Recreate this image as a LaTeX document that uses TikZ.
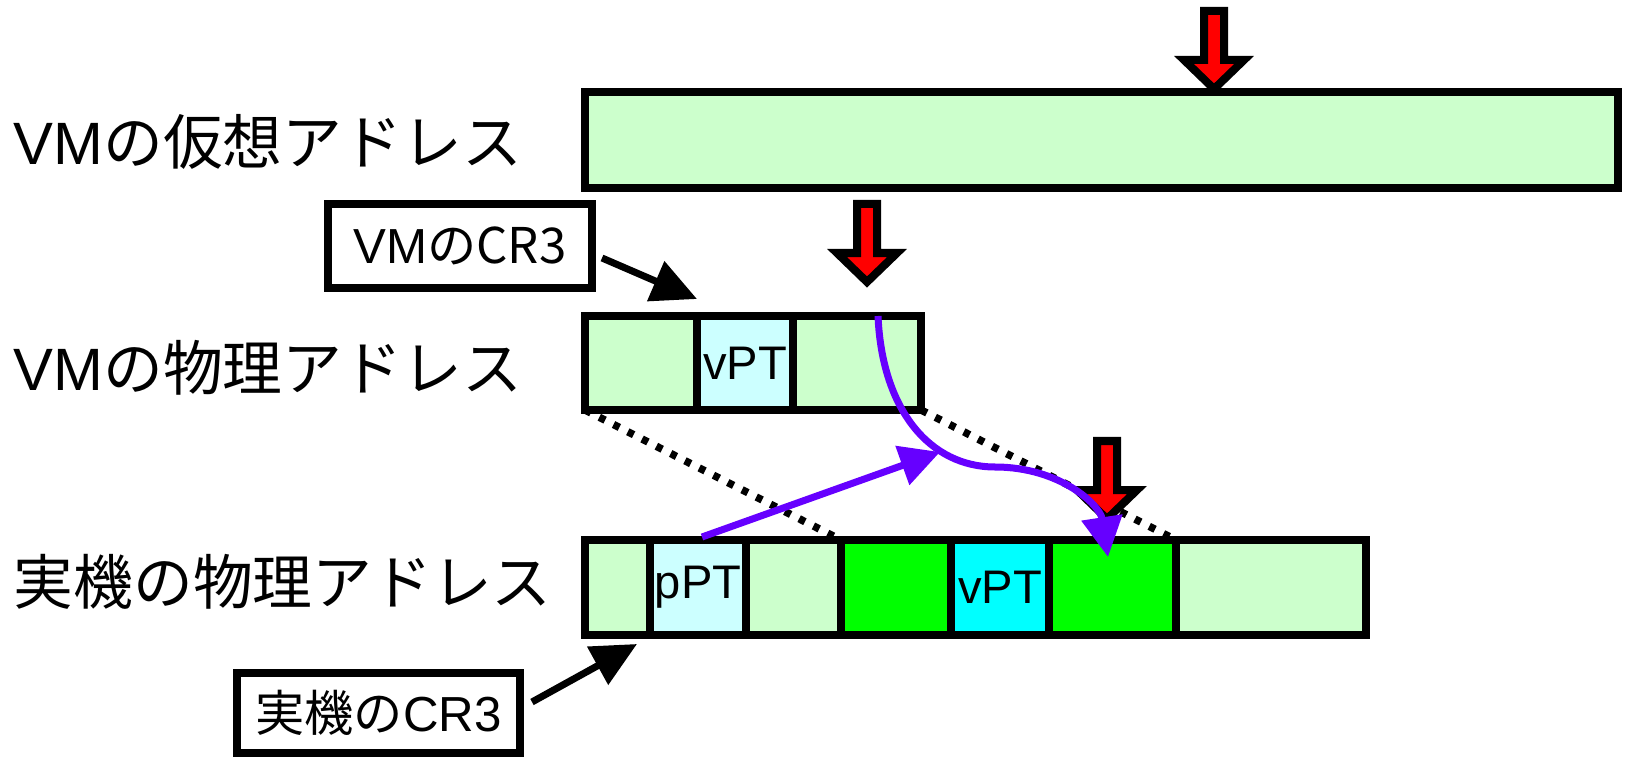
\documentclass[tikz,border=0pt]{standalone}
\usepackage{fontspec}
\setmainfont{Liberation Sans}
\newfontfamily\jp{Noto Sans CJK JP}
\usetikzlibrary{arrows.meta}

\definecolor{lgreen}{HTML}{CCFFCC}
\definecolor{lcyan}{HTML}{CCFFFF}
\definecolor{fgreen}{HTML}{00FF00}
\definecolor{fcyan}{HTML}{00FFFF}
\definecolor{walkcol}{HTML}{6600FF}

\tikzset{
  redarrow/.pic={
    \filldraw[fill=red, line width=0.08cm, miter limit=20]
      (-10,0) -- (10,0) -- (10,49) -- (30,49) -- (0,78)
      -- (-30,49) -- (-10,49) -- cycle;
  }
}

\begin{document}
\begin{tikzpicture}[x=0.01cm, y=-0.01cm,
    bar/.style={draw, line width=0.08cm, fill=lgreen},
    biglabel/.style={anchor=base west, inner sep=0pt, font=\fontsize{17}{20}\selectfont},
    regbox/.style={draw, line width=0.08cm, fill=white, inner sep=0pt, font=\fontsize{14}{16}\selectfont},
    celltext/.style={inner sep=0pt, font=\fontsize{13.4}{15}\selectfont},
    ptr/.style={line width=0.07cm, -{Triangle[length=0.45cm, width=0.42cm]}},
    mapline/.style={line width=0.075cm, dash pattern=on 0.065cm off 0.095cm},
    walk/.style={walkcol, line width=0.07cm, -{Triangle[length=0.4cm, width=0.4cm]}}]
  \useasboundingbox (0,0) rectangle (1625,764);

  % address space labels
  \node[biglabel] (vaddr) at (13,165) {VM\jp の仮想アドレス};
  \node[biglabel] (vphys) at (13,390) {VM\jp の物理アドレス};
  \node[biglabel] (hphys) at (13,604) {\jp 実機の物理アドレス};

  % guest physical range inside host memory
  \coordinate (vmL) at (585,410);
  \coordinate (vmR) at (921,410);
  \coordinate (paL) at (841,540);
  \coordinate (paR) at (1176,540);
  \draw[mapline] (vmL) -- (paL);
  \draw[mapline] (vmR) -- (paR);

  % VM virtual address
  \draw[bar] (585,92) rectangle (1618,188);

  % VM physical address
  \draw[bar] (585,316) rectangle (697,410);
  \draw[bar, fill=lcyan] (697,316) rectangle (793,410);
  \draw[bar] (793,316) rectangle (921,410);
  \node[celltext] (vpt) at (745,363) {vPT};

  % host physical address
  \draw[bar] (585,540) rectangle (650,635);
  \draw[bar, fill=lcyan] (650,540) rectangle (746,635);
  \draw[bar] (746,540) rectangle (841,635);
  \draw[bar, fill=fgreen] (841,540) rectangle (951,635);
  \draw[bar, fill=fcyan] (951,540) rectangle (1049,635);
  \draw[bar, fill=fgreen] (1049,540) rectangle (1176,635);
  \draw[bar] (1176,540) rectangle (1366,635);
  \node[celltext] (ppt) at (698,587) {pPT};
  \node[celltext] (hvpt) at (1000,587) {vPT};

  % CR3 registers
  \node[regbox, minimum width=2.64cm, minimum height=0.84cm] (vmcr3) at (460,246) {VM\jp のCR3};
  \node[regbox, minimum width=2.83cm, minimum height=0.80cm] (hostcr3) at (378.5,713) {{\jp 実機の}CR3};
  \coordinate (vmcr3from) at (602,258);
  \coordinate (vmcr3to) at (697,299);
  \coordinate (hostcr3from) at (532,702);
  \coordinate (hostcr3to) at (637,644);
  \draw[ptr] (vmcr3from) -- (vmcr3to);
  \draw[ptr] (hostcr3from) -- (hostcr3to);

  % accessed addresses
  \pic at (1214,11) {redarrow};
  \pic at (867,204) {redarrow};
  \pic at (1107,441) {redarrow};

  % page walk
  \coordinate (pptTop) at (702,537);
  \coordinate (hop) at (940,452);
  \coordinate (walkStart) at (878,316);
  \coordinate (walkEnd) at (1108,557);
  \draw[walk] (pptTop) -- (hop);
  \draw[walk] (walkStart) .. controls (882,410) and (930,467) .. (995,467)
    .. controls (1060,467) and (1100,505) .. (walkEnd);
\end{tikzpicture}
\end{document}
